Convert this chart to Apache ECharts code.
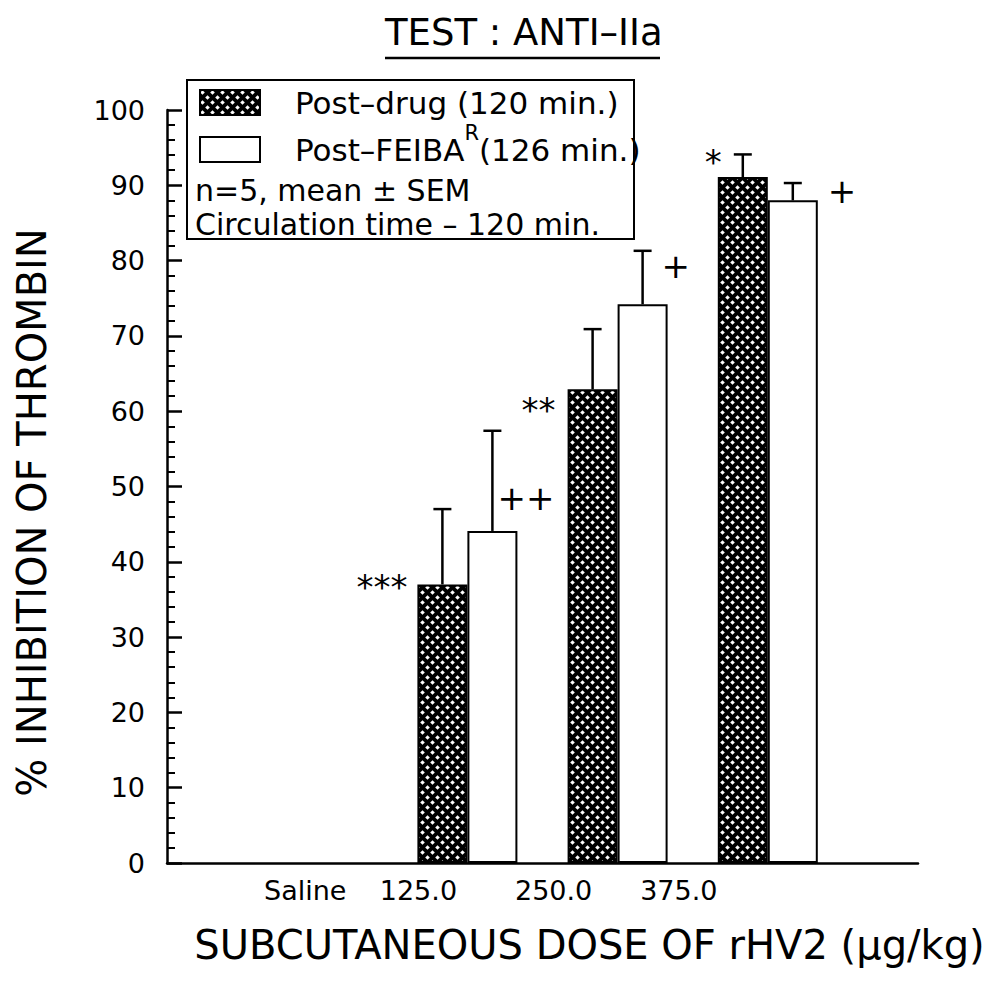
<!DOCTYPE html>
<html><head><meta charset="utf-8">
<script src="https://cdn.jsdelivr.net/npm/echarts@6/dist/echarts.min.js"></script>
<style>html,body{margin:0;padding:0;background:#fff}#c{width:987px;height:987px}</style>
</head><body><div id="c"></div>
<script>
// ---- data ----
const categories = ['', 'Saline', '125.0', '250.0', '375.0', ''];
const drugMean  = [null, null, 37.0, 62.9, 91.1, null];
const drugSem   = [null, null, 10.0, 8.0, 3.0, null];
const feibaMean = [null, null, 44.1, 74.2, 88.0, null];
const feibaSem  = [null, null, 13.3, 7.1, 2.3, null];
const drugMarks  = [null, null, '***', '**', '*', null];
const feibaMarks = [null, null, '++', '+', '+', null];
const seriesNames = ['Post–drug (120 min.)', 'Post–FEIBA R(126 min.)'];
const feibaNameParts = ['Post–FEIBA', 'R', '(126 min.)'];
const noteLines = ['n=5, mean ± SEM', 'Circulation time – 120 min.'];
const titleText = 'TEST : ANTI–IIa';
const xTitle = 'SUBCUTANEOUS DOSE OF rHV2 (μg/kg)';
const yTitle = '% INHIBITION OF THROMBIN';

// ---- styles ----
const FONT = 'DejaVu Sans';
const BAR_W = 50, CAP = 9;
const labelShift = [0, 24, 98, 128, 178, 0];          // px padding to shift tick labels left
const drugMarkOff  = {2: [-10, 3], 3: [-12, 21], 4: [4, -15]};
const feibaMarkOff = {2: [5, 67], 3: [19, 15], 4: [35, 8]};

function hatchCanvas() {
  const c = document.createElement('canvas');
  c.width = 10; c.height = 10;
  const g = c.getContext('2d');
  g.fillStyle = '#000'; g.fillRect(0, 0, 10, 10);
  g.fillStyle = '#fff';
  [[2.5, 2.5], [7.5, 7.5]].forEach(([x, y]) => {
    const r = 2.3;
    g.beginPath(); g.moveTo(x, y - r); g.lineTo(x + r, y); g.lineTo(x, y + r); g.lineTo(x - r, y); g.closePath(); g.fill();
  });
  return c;
}
const hatch = {image: hatchCanvas(), repeat: 'repeat'};

const errData = [];
categories.forEach((c, i) => {
  if (drugMean[i] != null) errData.push([i, drugMean[i], drugSem[i], 0]);
  if (feibaMean[i] != null) errData.push([i, feibaMean[i], feibaSem[i], 1]);
});

function renderErr(params, api) {
  const i = api.value(0), m = api.value(1), s = api.value(2), k = api.value(3);
  const base = api.coord([i, m]);
  const top = api.coord([i, m + s]);
  const half = BAR_W / 2;
  const x = base[0] + (k === 0 ? -half : half);
  const children = [
    {type: 'line', shape: {x1: x, y1: base[1], x2: x, y2: top[1]}, style: {stroke: '#000', lineWidth: 2.5}},
    {type: 'line', shape: {x1: x - CAP, y1: top[1], x2: x + CAP, y2: top[1]}, style: {stroke: '#000', lineWidth: 2.5}}
  ];
  if (k === 0 && drugMarks[i]) {
    const o = drugMarkOff[i];
    children.push({type: 'text', x: base[0] - BAR_W + o[0], y: base[1] + o[1],
      style: {text: drugMarks[i], fill: '#000', fontSize: 34, fontFamily: FONT, align: 'right', verticalAlign: 'middle'}});
  }
  if (k === 1 && feibaMarks[i]) {
    const o = feibaMarkOff[i];
    children.push({type: 'text', x: x + o[0], y: top[1] + o[1],
      style: {text: feibaMarks[i], fill: '#000', fontSize: 34, fontFamily: FONT, align: 'left', verticalAlign: 'middle'}});
  }
  return {type: 'group', children};
}

const labelRich = {};
labelShift.forEach((p, i) => { labelRich['p' + i] = {fontSize: 27, fontFamily: FONT, color: '#000', padding: [0, p, 0, 0]}; });

const chart = echarts.init(document.getElementById('c'), null, {renderer: 'svg', width: 987, height: 987});
chart.setOption({
  backgroundColor: '#fff',
  animation: false,
  title: {text: titleText, left: 385, top: 14, padding: 0,
    textStyle: {fontSize: 37, fontWeight: 'normal', fontFamily: FONT, color: '#000'}},
  grid: {left: 167, right: 69, top: 110, bottom: 124, containLabel: false, outerBoundsMode: 'none'},
  legend: {
    orient: 'vertical', left: 199, top: 87, padding: 0, itemWidth: 60, itemHeight: 25, itemGap: 4,
    icon: 'rect', selectedMode: false,
    data: [
      {name: seriesNames[0], itemStyle: {color: hatch, borderColor: '#000', borderWidth: 2}},
      {name: seriesNames[1], itemStyle: {color: '#fff', borderColor: '#000', borderWidth: 2}}
    ],
    formatter: name => name === seriesNames[1]
      ? '{a|' + feibaNameParts[0] + '}{s|' + feibaNameParts[1] + '}{a|' + feibaNameParts[2] + '}'
      : '{a|' + name + '}',
    textStyle: {fontSize: 31, fontFamily: FONT, color: '#000', padding: [0, 0, 0, 30],
      rich: {
        a: {fontSize: 31, fontFamily: FONT, color: '#000', lineHeight: 36},
        s: {fontSize: 21, fontFamily: FONT, color: '#000', lineHeight: 22, padding: [0, 0, 34, 0]}
      }}
  },
  xAxis: {
    type: 'category', data: categories, boundaryGap: false,
    axisLine: {lineStyle: {color: '#000', width: 2.5}},
    axisTick: {show: false},
    axisLabel: {interval: 0, margin: 14, color: '#000', fontSize: 27, fontFamily: FONT,
      formatter: (v, i) => v ? '{p' + i + '|' + v + '}' : '', rich: labelRich},
    splitLine: {show: false},
    name: xTitle, nameLocation: 'middle', nameGap: 62,
    nameTextStyle: {fontSize: 40, fontFamily: FONT, color: '#000', padding: [0, 0, 0, 94]}
  },
  yAxis: {
    type: 'value', min: 0, max: 100, interval: 10,
    axisLine: {show: true, lineStyle: {color: '#000', width: 2.5}},
    axisTick: {show: true, inside: true, length: 15, lineStyle: {color: '#000', width: 2.5}},
    minorTick: {show: true, splitNumber: 5, length: 8, lineStyle: {color: '#000', width: 2}},
    splitLine: {show: false},
    axisLabel: {color: '#000', fontSize: 27, fontFamily: FONT, margin: 22},
    name: yTitle, nameLocation: 'middle', nameGap: 115,
    nameTextStyle: {fontSize: 40, fontFamily: FONT, color: '#000', padding: [0, 52, 0, 0]}
  },
  graphic: [
    {type: 'rect', z: 1, shape: {x: 187, y: 80, width: 447, height: 159}, style: {fill: '#fff', stroke: '#000', lineWidth: 2}},
    {type: 'text', z: 5, x: 195, y: 190, style: {text: noteLines[0], fontSize: 30, fontFamily: FONT, fill: '#000', verticalAlign: 'middle'}},
    {type: 'text', z: 5, x: 195, y: 224, style: {text: noteLines[1], fontSize: 30, fontFamily: FONT, fill: '#000', verticalAlign: 'middle'}},
    {type: 'line', z: 5, shape: {x1: 385, y1: 58, x2: 660, y2: 58}, style: {stroke: '#000', lineWidth: 2.5}}
  ],
  series: [
    {type: 'bar', name: seriesNames[0], data: drugMean, barWidth: BAR_W, barGap: '0%',
      itemStyle: {color: hatch, borderColor: '#000', borderWidth: 2}},
    {type: 'bar', name: seriesNames[1], data: feibaMean, barWidth: BAR_W, barGap: '0%',
      itemStyle: {color: '#fff', borderColor: '#000', borderWidth: 2}},
    {type: 'custom', renderItem: renderErr, data: errData, z: 3,
      encode: {x: 0, y: 1}, clip: false}
  ]
});
</script>
</body></html>
